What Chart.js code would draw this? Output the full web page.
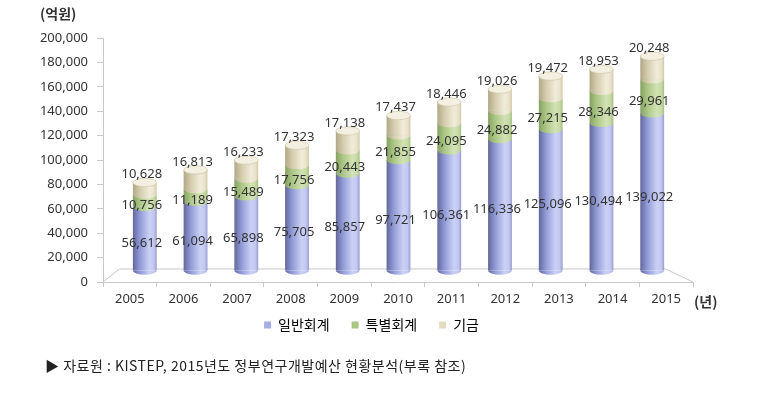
<!DOCTYPE html>
<html>
<head>
<meta charset="utf-8">
<script src="https://cdn.jsdelivr.net/npm/chart.js@4.4.1/dist/chart.umd.min.js"></script>
<style>
  body { margin: 0; background: #fff; }
  #wrap { position: relative; width: 759px; height: 400px; }
  #c { position: absolute; left: 0; top: 0; }
  #src { position: absolute; left: 45px; top: 355px; font: 14px 'Noto Sans CJK KR', sans-serif; letter-spacing: 0.5px; color: #222; white-space: nowrap; }
</style>
</head>
<body>
<div id="wrap">
  <canvas id="c" width="759" height="356"></canvas>
  <div id="src">▶ 자료원 : KISTEP, 2015년도 정부연구개발예산 현황분석(부록 참조)</div>
</div>
<script>
// 연도별 정부연구개발예산 (억원)
const years = ['2005', '2006', '2007', '2008', '2009', '2010', '2011', '2012', '2013', '2014', '2015'];
const general = [56612, 61094, 65898, 75705, 85857, 97721, 106361, 116336, 125096, 130494, 139022];
const special = [10756, 11189, 15489, 17756, 20443, 21855, 24095, 24882, 27215, 28346, 29961];
const fund = [10628, 16813, 16233, 17323, 17138, 17437, 18446, 19026, 19472, 18953, 20248];
const seriesNames = ['일반회계', '특별회계', '기금'];
const yMax = 200000;
const yStep = 20000;

const BAR_PCT = 0.47;
// 3D 느낌: 막대는 뒤쪽 평면에 조금 줄여서 그림
const SX = 0.946, TX = 22, SY = 0.93, TY = 8.7;
const tfx = x => SX * x + TX;
const tfy = y => SY * y + TY;

const stops = [
  [[0, '#62689c'], [0.3, '#929bd6'], [0.7, '#cbd1f5'], [0.88, '#c1c7ef'], [1, '#979ed1']],
  [[0, '#86a262'], [0.3, '#abc684'], [0.7, '#d2e2b4'], [0.88, '#c7daa6'], [1, '#a7c081']],
  [[0, '#b1a888'], [0.3, '#d4ccad'], [0.7, '#f1ecda'], [0.88, '#e9e3cc'], [1, '#d2caa9']]
];
const legendColors = ['#a7aee3', '#a9c784', '#e3dcc2'];

function grad(ctx, cx, w, s) {
  const g = ctx.createLinearGradient(cx - w / 2, 0, cx + w / 2, 0);
  s.forEach(([o, col]) => g.addColorStop(o, col));
  return g;
}

function cyl(idx) {
  return c => {
    const ch = c.chart;
    if (!ch.chartArea || c.dataIndex === undefined) return legendColors[idx];
    const xs = ch.scales.x;
    const w = xs.width / years.length * BAR_PCT;
    return grad(ch.ctx, xs.getPixelForValue(c.dataIndex), w, stops[idx]);
  };
}

const depth = {
  id: 'depth',
  afterLayout(chart) {
    // 범례 위치를 원본에 맞춤
    const lg = chart.legend;
    lg.left += 25;
    lg.right += 25;
    lg.top -= 14;
    lg.bottom -= 14;
  },
  beforeDatasetsDraw(chart) {
    const { ctx, chartArea: a } = chart;
    // 바닥면
    ctx.save();
    ctx.strokeStyle = '#c8c8c8';
    ctx.lineWidth = 1;
    const by = tfy(a.bottom) - 2;
    ctx.beginPath();
    ctx.moveTo(a.left, a.bottom);
    ctx.lineTo(tfx(a.left), by);
    ctx.lineTo(tfx(a.right) - 12, by);
    ctx.lineTo(a.right, a.bottom);
    ctx.stroke();
    ctx.restore();

    ctx.save();
    ctx.translate(TX, TY);
    ctx.scale(SX, SY);
  },
  afterDatasetsDraw(chart) {
    const ctx = chart.ctx;
    const metas = [0, 1, 2].map(i => chart.getDatasetMeta(i));
    years.forEach((_, i) => {
      metas.forEach((m, d) => {
        const b = m.data[i];
        ctx.beginPath();
        ctx.ellipse(b.x, b.base, b.width / 2, 4.5, 0, 0, Math.PI);
        ctx.fillStyle = grad(ctx, b.x, b.width, stops[d]);
        ctx.fill();
      });
      const t = metas[2].data[i];
      ctx.beginPath();
      ctx.ellipse(t.x, t.y, t.width / 2, 4.5, 0, 0, Math.PI * 2);
      ctx.fillStyle = '#f3efe1';
      ctx.fill();
      ctx.strokeStyle = '#c9c0a0';
      ctx.lineWidth = 0.6;
      ctx.stroke();
    });
    ctx.restore();

    // 값 표시
    ctx.save();
    ctx.font = '13px "Noto Sans", sans-serif';
    ctx.fillStyle = '#333';
    ctx.textAlign = 'center';
    ctx.textBaseline = 'middle';
    const fmt = v => v.toLocaleString('en-US');
    const vals = [general, special, fund];
    years.forEach((_, i) => {
      metas.forEach((m, d) => {
        const b = m.data[i];
        const x = tfx(b.x) - 3;
        const y = d === 2 ? tfy(b.y) - 8 : tfy((b.y + b.base) / 2) + 5;
        ctx.fillText(fmt(vals[d][i]), x, y);
      });
    });
    ctx.restore();
  },
  afterDraw(chart) {
    const ctx = chart.ctx;
    ctx.save();
    ctx.font = 'bold 14px "Noto Sans CJK KR", sans-serif';
    ctx.fillStyle = '#333';
    ctx.textBaseline = 'middle';
    ctx.textAlign = 'left';
    ctx.fillText('(억원)', 40, 14);
    ctx.fillText('(년)', 694, 302);
    ctx.restore();
  }
};

new Chart(document.getElementById('c'), {
  type: 'bar',
  data: {
    labels: years,
    datasets: [
      { label: seriesNames[0], data: general, backgroundColor: cyl(0) },
      { label: seriesNames[1], data: special, backgroundColor: cyl(1) },
      { label: seriesNames[2], data: fund, backgroundColor: cyl(2) }
    ]
  },
  options: {
    responsive: false,
    devicePixelRatio: 1,
    animation: false,
    layout: { padding: { left: 0, right: 66, top: 38, bottom: 0 } },
    datasets: { bar: { barPercentage: BAR_PCT, categoryPercentage: 1, borderWidth: 0 } },
    scales: {
      x: {
        stacked: true,
        afterFit: s => { s.height = 28; },
        grid: { offset: true, drawOnChartArea: false, tickLength: 5, color: '#c8c8c8' },
        border: { color: '#c8c8c8' },
        ticks: { color: '#333', padding: 4, font: { size: 13, family: 'Noto Sans' } }
      },
      y: {
        stacked: true,
        min: 0,
        max: yMax,
        afterFit: s => { s.width = 103; },
        grid: { drawOnChartArea: false, tickLength: 6, color: '#c8c8c8' },
        border: { color: '#c8c8c8' },
        ticks: {
          stepSize: yStep,
          color: '#333',
          padding: 9,
          font: { size: 13, family: 'Noto Sans' },
          callback: v => v.toLocaleString('en-US')
        }
      }
    },
    plugins: {
      legend: {
        position: 'bottom',
        labels: {
          boxWidth: 7,
          boxHeight: 7,
          padding: 22,
          color: '#333',
          font: { size: 14, family: 'Noto Sans CJK KR' },
          generateLabels: () => seriesNames.map((n, i) => ({
            text: n, fillStyle: legendColors[i], strokeStyle: legendColors[i], lineWidth: 0, datasetIndex: i
          }))
        }
      },
      tooltip: { enabled: false }
    }
  },
  plugins: [depth]
});
</script>
</body>
</html>
